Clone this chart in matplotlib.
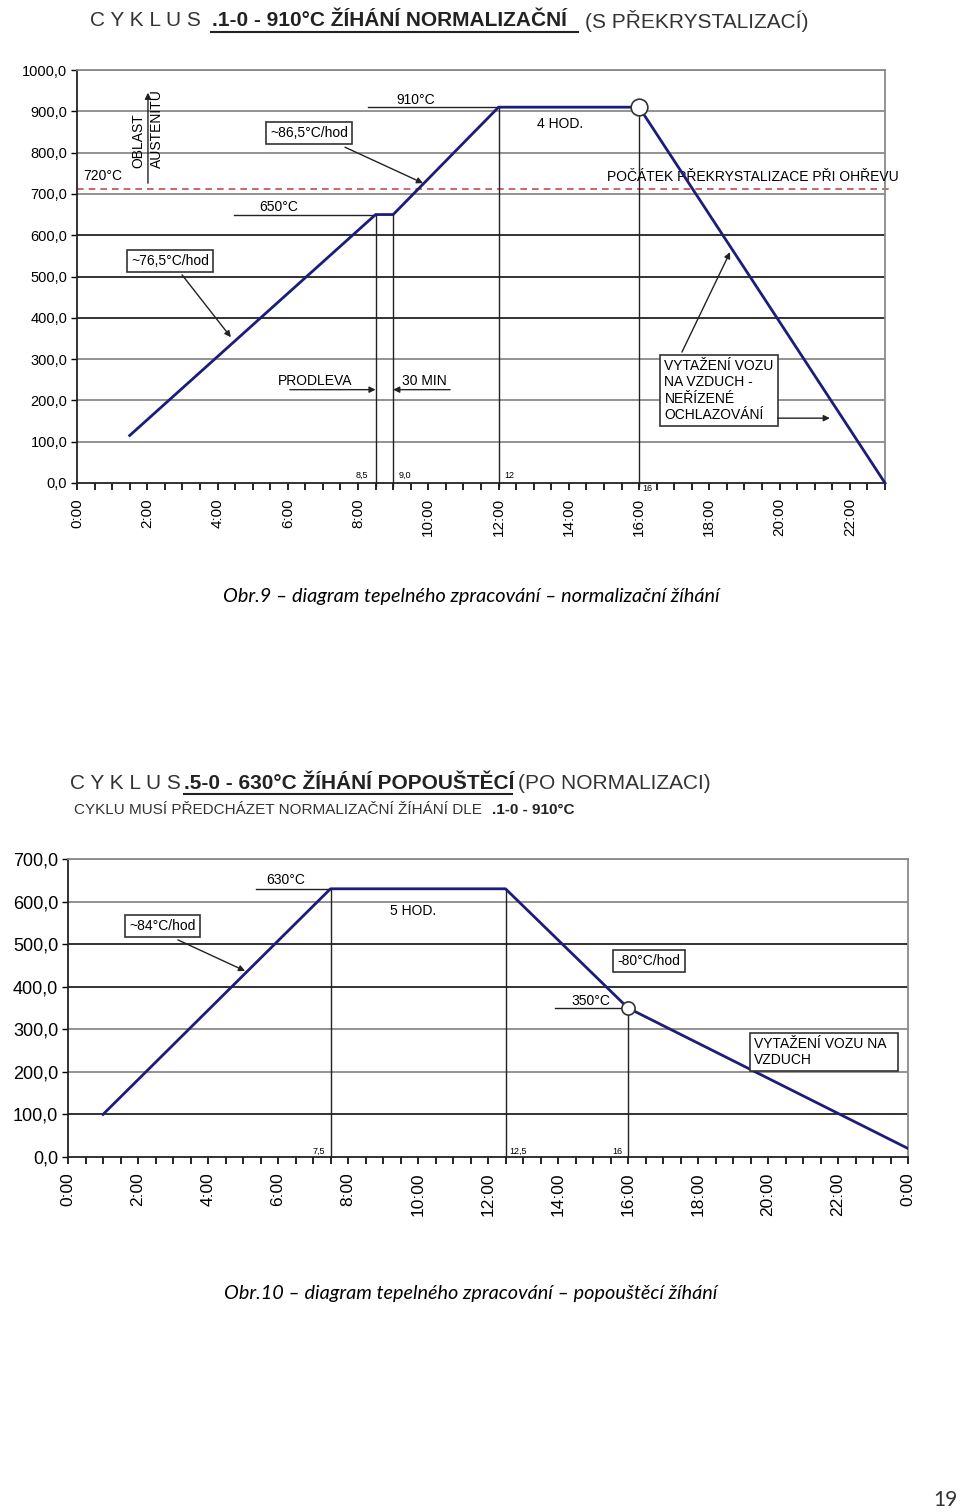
import matplotlib
matplotlib.use("Agg")
import matplotlib.pyplot as plt
from matplotlib.lines import Line2D

FONT = ["Liberation Sans Narrow", "Liberation Sans", "DejaVu Sans"]
CAPFONT = ["Lato", "DejaVu Sans"]
NAVY = "#1c1c7a"

# --- data: cyklus .1-0 (normalizacni zihani) ---
x_norm = [1.5, 8.5, 9.0, 12.0, 16.0, 23.0]
y_norm = [115, 650, 650, 910, 910, 0]
norm_marks = [8.5, 9.0, 12.0, 16.0]
norm_mark_labels = ["8,5", "9,0", "12", "16"]
norm_yticks = [0, 100, 200, 300, 400, 500, 600, 700, 800, 900, 1000]
norm_xticks = [0, 2, 4, 6, 8, 10, 12, 14, 16, 18, 20, 22]
norm_xlabels = ["0:00", "2:00", "4:00", "6:00", "8:00", "10:00", "12:00",
                "14:00", "16:00", "18:00", "20:00", "22:00"]
recryst_temp = 712

# --- data: cyklus .5-0 (popousteci zihani) ---
x_pop = [1.0, 7.5, 12.5, 16.0, 24.0]
y_pop = [100, 630, 630, 350, 20]
pop_marks = [7.5, 12.5, 16.0]
pop_mark_labels = ["7,5", "12,5", "16"]
pop_yticks = [0, 100, 200, 300, 400, 500, 600, 700]
pop_xticks = [0, 2, 4, 6, 8, 10, 12, 14, 16, 18, 20, 22, 24]
pop_xlabels = ["0:00", "2:00", "4:00", "6:00", "8:00", "10:00", "12:00",
               "14:00", "16:00", "18:00", "20:00", "22:00", "0:00"]

W, H = 960, 1512
fig = plt.figure(figsize=(W / 100, H / 100), dpi=100)


def px_axes(left, top, right, bottom):
    return fig.add_axes([left / W, 1 - bottom / H, (right - left) / W, (bottom - top) / H])


def style_axes(ax, yticks, xticks, xlabels, xmax, dark, ysize, xsize):
    ax.set_xlim(0, xmax)
    ax.set_ylim(0, yticks[-1])
    for v in yticks[1:]:
        ax.axhline(v, color="#222222" if v in dark else "#8a8a8a", lw=1.3, zorder=1)
    ax.set_yticks(yticks)
    ax.set_yticklabels([f"{v},0" for v in yticks], family=FONT, fontsize=ysize)
    ax.set_xticks(xticks)
    ax.set_xticklabels(xlabels, rotation=90, family=FONT, fontsize=xsize)
    ax.set_xticks([i * 0.5 for i in range(int(xmax * 2) + 1)], minor=True)
    ax.tick_params(axis="x", which="both", direction="out", length=5, width=1.2, pad=6)
    ax.tick_params(axis="y", direction="out", length=4, width=1, pad=3)
    ax.spines["top"].set_color("#8a8a8a")
    ax.spines["right"].set_color("#8a8a8a")
    ax.spines["left"].set_color("#222222")
    ax.spines["bottom"].set_color("#222222")
    for s in ax.spines.values():
        s.set_linewidth(1.3)


def box(ax, x, y, s, size=10, ha="center"):
    ax.text(x, y, s, ha=ha, va="center", family=FONT, fontsize=size, zorder=5,
            bbox=dict(facecolor="white", edgecolor="#333333", lw=1.2, pad=3))


def arrow(ax, x0, y0, x1, y1):
    ax.annotate("", xy=(x1, y1), xytext=(x0, y0), zorder=6, annotation_clip=False,
                arrowprops=dict(arrowstyle="-|>", color="#222222", lw=1,
                                mutation_scale=9, shrinkA=0, shrinkB=0))


# ================= top chart =================
ax1 = px_axes(77, 70, 885, 483)
style_axes(ax1, norm_yticks, norm_xticks, norm_xlabels, 23, {400, 500, 600}, 10.5, 11)

ax1.plot([0, 23.15], [recryst_temp, recryst_temp], ls=(0, (4, 3)), color="#c0504d",
         lw=1.2, zorder=2, clip_on=False)
ax1.plot(x_norm, y_norm, color=NAVY, lw=2, zorder=4, clip_on=False)
ax1.plot([16.0], [910], "o", ms=12, mfc="white", mec="#333333", mew=1.2, zorder=5)

for xm, lab in zip(norm_marks, norm_mark_labels):
    top = y_norm[x_norm.index(xm)]
    ax1.plot([xm, xm], [-8, top], color="#222222", lw=1, zorder=3, clip_on=False)
    if lab == "8,5":
        ax1.text(xm - 0.2, 8, lab, ha="right", va="bottom", family=FONT, fontsize=6.5)
    elif lab == "16":
        ax1.text(xm + 0.1, -2, lab, ha="left", va="top", family=FONT, fontsize=6.5)
    else:
        ax1.text(xm + 0.15, 8, lab, ha="left", va="bottom", family=FONT, fontsize=6.5)

ax1.text(0.17, 743, "720°C", ha="left", va="center", family=FONT, fontsize=10)
ax1.text(15.1, 741, "POČÁTEK PŘEKRYSTALIZACE PŘI OHŘEVU", ha="left", va="center",
         family=FONT, fontsize=10, clip_on=False)
arrow(ax1, 2.02, 726, 2.02, 945)
ax1.text(1.76, 763, "OBLAST", rotation=90, ha="center", va="bottom",
         family=FONT, fontsize=10, zorder=6)
ax1.text(2.27, 763, "AUSTENITU", rotation=90, ha="center", va="bottom",
         family=FONT, fontsize=10, zorder=6)

box(ax1, 6.6, 847, "~86,5°C/hod")
arrow(ax1, 7.63, 813, 9.85, 726)
ax1.plot([8.28, 12.0], [910, 910], color="#222222", lw=1, zorder=3)
ax1.text(9.65, 928, "910°C", ha="center", va="center", family=FONT, fontsize=10)
ax1.plot([4.47, 8.5], [650, 650], color="#222222", lw=1, zorder=3)
ax1.text(5.75, 668, "650°C", ha="center", va="center", family=FONT, fontsize=10)
ax1.text(13.75, 869, "4 HOD.", ha="center", va="center", family=FONT, fontsize=10)

box(ax1, 2.65, 537, "~76,5°C/hod")
arrow(ax1, 2.99, 504, 4.38, 353)

ax1.text(6.77, 247, "PRODLEVA", ha="center", va="center", family=FONT, fontsize=10)
arrow(ax1, 6.06, 226, 8.5, 226)
ax1.text(9.88, 247, "30 MIN", ha="center", va="center", family=FONT, fontsize=10)
arrow(ax1, 10.62, 226, 9.0, 226)

box(ax1, 16.72, 224, "VYTAŽENÍ VOZU\nNA VZDUCH -\nNEŘÍZENÉ\nOCHLAZOVÁNÍ", ha="left")
arrow(ax1, 17.22, 317, 18.59, 559)
arrow(ax1, 19.95, 157, 21.43, 157)

# title top
fig.text(90 / W, 1 - 21 / H, "C Y K L U S", ha="left", va="center", family=FONT,
         fontsize=15, color="#333333")
fig.text(212 / W, 1 - 21 / H, ".1-0 - 910°C ŽÍHÁNÍ NORMALIZAČNÍ", ha="left", va="center",
         family=FONT, fontsize=15, fontweight="bold", color="#222222")
fig.add_artist(Line2D([211 / W, 578 / W], [1 - 32 / H, 1 - 32 / H], color="#222222", lw=1.5))
fig.text(585 / W, 1 - 21 / H, "(S PŘEKRYSTALIZACÍ)", ha="left", va="center", family=FONT,
         fontsize=15, color="#333333")

fig.text(471 / W, 1 - 597 / H, "Obr.9 – diagram tepelného zpracování – normalizační žíhání",
         ha="center", va="center", family=CAPFONT, style="italic", fontsize=14.3)

# ================= bottom chart =================
ax2 = px_axes(68, 859, 908, 1157)
style_axes(ax2, pop_yticks, pop_xticks, pop_xlabels, 24, {100, 400, 500}, 13, 12.5)

ax2.plot(x_pop, y_pop, color=NAVY, lw=2, zorder=4)
ax2.plot([16.0], [350], "o", ms=9.5, mfc="white", mec="#333333", mew=1.2, zorder=5)

for xm, lab in zip(pop_marks, pop_mark_labels):
    top = y_pop[x_pop.index(xm)]
    ax2.plot([xm, xm], [0, top], color="#222222", lw=1, zorder=3)
    if lab == "12,5":
        ax2.text(xm + 0.1, 2, lab, ha="left", va="bottom", family=FONT, fontsize=6.5)
    else:
        ax2.text(xm - 0.15, 2, lab, ha="right", va="bottom", family=FONT, fontsize=6.5)

ax2.plot([5.37, 7.5], [630, 630], color="#222222", lw=1, zorder=3)
ax2.text(6.23, 650, "630°C", ha="center", va="center", family=FONT, fontsize=10)
ax2.text(9.86, 578, "5 HOD.", ha="center", va="center", family=FONT, fontsize=10)
box(ax2, 2.71, 543, "~84°C/hod")
arrow(ax2, 3.14, 510, 5.06, 437)
box(ax2, 16.6, 460, "-80°C/hod")
ax2.plot([13.91, 16.0], [350, 350], color="#222222", lw=1, zorder=3)
ax2.text(14.94, 366, "350°C", ha="center", va="center", family=FONT, fontsize=10)
box(ax2, 19.6, 247, "VYTAŽENÍ VOZU NA  \nVZDUCH", ha="left")

fig.text(70 / W, 1 - 783 / H, "C Y K L U S", ha="left", va="center", family=FONT,
         fontsize=15, color="#333333")
fig.text(184 / W, 1 - 783 / H, ".5-0 - 630°C ŽÍHÁNÍ POPOUŠTĚCÍ", ha="left", va="center",
         family=FONT, fontsize=15, fontweight="bold", color="#222222")
fig.add_artist(Line2D([184 / W, 512 / W], [1 - 794 / H, 1 - 794 / H], color="#222222", lw=1.5))
fig.text(518 / W, 1 - 783 / H, "(PO NORMALIZACI)", ha="left", va="center", family=FONT,
         fontsize=15, color="#333333")
fig.text(74 / W, 1 - 810 / H, "CYKLU MUSÍ PŘEDCHÁZET NORMALIZAČNÍ ŽÍHÁNÍ DLE", ha="left",
         va="center", family=FONT, fontsize=11, color="#333333")
fig.text(492 / W, 1 - 810 / H, ".1-0 - 910°C", ha="left", va="center", family=FONT,
         fontsize=11, fontweight="bold", color="#222222")

fig.text(471 / W, 1 - 1293 / H, "Obr.10 – diagram tepelného zpracování – popouštěcí žíhání",
         ha="center", va="center", family=CAPFONT, style="italic", fontsize=14.3)
fig.text(945 / W, 1 - 1500 / H, "19", ha="center", va="center", family=CAPFONT,
         fontsize=15, color="#333333")

fig.savefig("out.png", dpi=100, facecolor="white")
